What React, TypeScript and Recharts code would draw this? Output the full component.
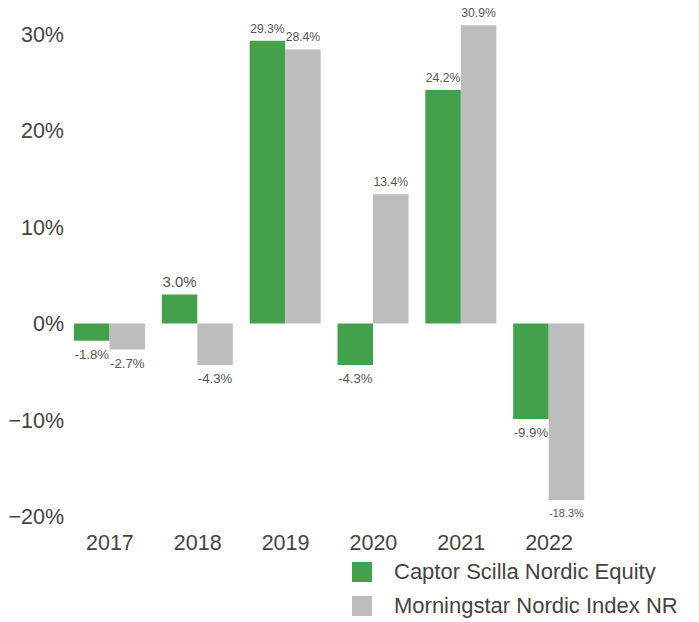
import React from "react";
import { BarChart, Bar, XAxis, YAxis, LabelList, Legend } from "recharts";

const years = ["2017", "2018", "2019", "2020", "2021", "2022"];
const captor = [-1.8, 3.0, 29.3, -4.3, 24.2, -9.9];
const morningstar = [-2.7, -4.3, 28.4, 13.4, 30.9, -18.3];
const yTicks = [-20, -10, 0, 10, 20, 30];

const seriesNames = ["Captor Scilla Nordic Equity", "Morningstar Nordic Index NR"];
const seriesColors = ["#43a04b", "#bdbdbd"];

const data = years.map((y, i) => ({ year: y, captor: captor[i], morningstar: morningstar[i] }));

const FONT = "'Liberation Sans', Arial, sans-serif";

const charW: Record<string, number> = { "-": 0.333, ".": 0.278, "%": 0.889 };
const textEm = (s: string) => s.split("").reduce((a, c) => a + (charW[c] ?? 0.556), 0);

const ValueLabel = (props: any) => {
  const { x, y, width, height, value } = props;
  if (value === undefined || value === null) return null;
  const txt = Number(value).toFixed(1) + "%";
  const fs = Math.min(15, 34.5 / textEm(txt));
  const top = Math.min(y, y + height);
  const bottom = Math.max(y, y + height);
  const cx = x + width / 2;
  const by = value >= 0 ? top - 8 : bottom + 9 + 0.716 * fs;
  return (
    <text x={cx} y={by} textAnchor="middle" fontSize={fs} fill="#555" fontFamily={FONT}>
      {txt}
    </text>
  );
};

const LegendContent = () => (
  <div style={{ fontFamily: FONT }}>
    {seriesNames.map((n, i) => (
      <div key={n} style={{ display: "flex", alignItems: "center", height: 34 }}>
        <div style={{ width: 20, height: 20, background: seriesColors[i], marginRight: 22 }} />
        <span style={{ fontSize: 22, color: "#444", lineHeight: "20px" }}>{n}</span>
      </div>
    ))}
  </div>
);

const fmtY = (v: number) => (v < 0 ? "\u2212" + Math.abs(v) + "%" : v + "%");

export default function App() {
  return (
    <div style={{ position: "absolute", left: 0, top: 0, background: "#fff" }}>
      <BarChart
        width={699}
        height={622}
        data={data}
        margin={{ top: 14.7, right: 106, bottom: 65.5, left: 0 }}
        barGap={0}
        barSize={35.5}
      >
        <XAxis
          dataKey="year"
          axisLine={false}
          tickLine={false}
          tickSize={0}
          tickMargin={18.5}
          height={40}
          tick={{ fontSize: 21.5, fill: "#444", fontFamily: FONT }}
          interval={0}
        />
        <YAxis
          domain={[-20, 32]}
          ticks={yTicks}
          allowDataOverflow
          axisLine={false}
          tickLine={false}
          tickSize={0}
          tickMargin={2}
          width={66}
          tickFormatter={fmtY}
          tick={{ fontSize: 21.5, fill: "#444", fontFamily: FONT }}
        />
        <Legend
          layout="vertical"
          align="center"
          verticalAlign="middle"
          content={<LegendContent />}
          wrapperStyle={{ position: "absolute", left: 352, top: 555, width: 345 }}
        />
        <Bar dataKey="captor" name={seriesNames[0]} fill={seriesColors[0]} isAnimationActive={false}>
          <LabelList dataKey="captor" content={<ValueLabel />} />
        </Bar>
        <Bar dataKey="morningstar" name={seriesNames[1]} fill={seriesColors[1]} isAnimationActive={false}>
          <LabelList dataKey="morningstar" content={<ValueLabel />} />
        </Bar>
      </BarChart>
    </div>
  );
}
